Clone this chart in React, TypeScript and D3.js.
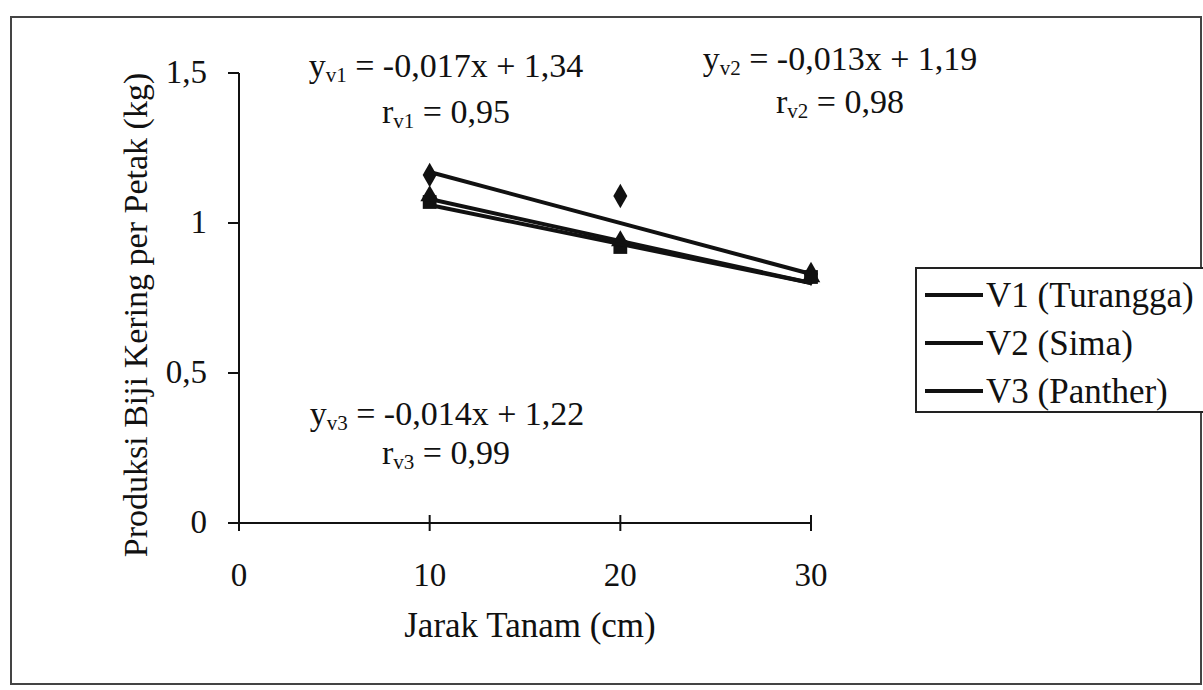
import { useEffect, useRef } from 'react';
import * as d3 from 'd3';

// jarak tanam (cm)
const spacing = [10, 20, 30];
const seriesNames = ['V1 (Turangga)', 'V2 (Sima)', 'V3 (Panther)'];
const seriesKeys = ['v1', 'v2', 'v3'];
// produksi per petak (kg)
const v1Values = [1.16, 1.09, 0.83];
const v2Values = [1.07, 0.92, 0.82];
const v3Values = [1.09, 0.94, 0.82];
// trendline coefficients as printed on the chart
const slopes = [-0.017, -0.013, -0.014];
const intercepts = [1.34, 1.19, 1.22];
const rValues = ['0,95', '0,98', '0,99'];
const xTicks = [0, 10, 20, 30];
const yTicks = [0, 0.5, 1, 1.5];

const fmt = (v: number) => String(v).replace('.', ',');
const FONT = "'Liberation Serif', 'Times New Roman', serif";

const App = () => {
  const svgRef = useRef<SVGSVGElement>(null);

  useEffect(() => {
    const svg = d3.select(svgRef.current);
    svg.selectAll('*').remove();

    const W = 1203, H = 690;
    svg.attr('width', W).attr('height', H);

    svg.append('rect').attr('width', W).attr('height', H).attr('fill', '#fff');

    // outer frame
    svg.append('rect')
      .attr('x', 11).attr('y', 17).attr('width', 1190).attr('height', 667)
      .attr('fill', 'none').attr('stroke', '#444').attr('stroke-width', 2);

    const x = d3.scaleLinear().domain([0, 30]).range([239, 811]);
    const y = d3.scaleLinear().domain([0, 1.5]).range([523, 73]);

    const g = svg.append('g');
    const txt = (sel: any) => sel.style('font-family', FONT).attr('fill', '#111');

    // y axis
    g.append('line')
      .attr('x1', x(0)).attr('x2', x(0)).attr('y1', y(0) + 8).attr('y2', y(1.5))
      .attr('stroke', '#111').attr('stroke-width', 2);
    yTicks.forEach(t => {
      g.append('line')
        .attr('x1', x(0) - 11).attr('x2', x(0)).attr('y1', y(t)).attr('y2', y(t))
        .attr('stroke', '#111').attr('stroke-width', 2);
      txt(g.append('text'))
        .attr('x', 207).attr('y', y(t) + 10)
        .attr('text-anchor', 'end').attr('font-size', 33)
        .text(fmt(t));
    });

    // x axis
    g.append('line')
      .attr('x1', x(0)).attr('x2', x(30)).attr('y1', y(0)).attr('y2', y(0))
      .attr('stroke', '#111').attr('stroke-width', 2);
    xTicks.forEach(t => {
      g.append('line')
        .attr('x1', x(t)).attr('x2', x(t)).attr('y1', y(0) - 8).attr('y2', y(0) + 8)
        .attr('stroke', '#111').attr('stroke-width', 2);
      txt(g.append('text'))
        .attr('x', x(t)).attr('y', 586)
        .attr('text-anchor', 'middle').attr('font-size', 33)
        .text(t);
    });

    // axis titles
    txt(g.append('text'))
      .attr('x', 530).attr('y', 637)
      .attr('text-anchor', 'middle').attr('font-size', 35)
      .text('Jarak Tanam (cm)');
    txt(g.append('text'))
      .attr('transform', `translate(147,${315}) rotate(-90)`)
      .attr('text-anchor', 'middle').attr('font-size', 34)
      .text('Produksi Biji Kering per Petak (kg)');

    // markers
    const allValues = [v1Values, v2Values, v3Values];
    const symbols = [d3.symbolDiamond, d3.symbolSquare, d3.symbolTriangle];
    const sizes = [170, 190, 150];
    allValues.forEach((vals, i) => {
      const sym = d3.symbol().type(symbols[i]).size(sizes[i]);
      g.selectAll(null)
        .data(vals.map((v, j) => ({ x: spacing[j], v })))
        .enter().append('path')
        .attr('d', sym)
        .attr('transform', d => `translate(${x(d.x)},${y(d.v)})`)
        .attr('fill', '#111');
    });

    // trendlines
    slopes.forEach((m, i) => {
      const pts = [spacing[0], spacing[spacing.length - 1]].map(xv => [x(xv), y(m * xv + intercepts[i])] as [number, number]);
      g.append('path')
        .attr('d', d3.line()(pts))
        .attr('stroke', '#111').attr('stroke-width', 4).attr('fill', 'none');
    });

    // equations
    const eqPos = [
      { x: 446, y: 77, rx: 446, ry: 123 },
      { x: 840, y: 70, rx: 840, ry: 113 },
      { x: 447, y: 425, rx: 446, ry: 464 },
    ];
    seriesKeys.forEach((k, i) => {
      const p = eqPos[i];
      const eq = txt(g.append('text'))
        .attr('x', p.x).attr('y', p.y)
        .attr('text-anchor', 'middle').attr('font-size', 34);
      eq.append('tspan').text('y');
      eq.append('tspan').attr('font-size', 21).attr('dy', 5).text(k);
      eq.append('tspan').attr('dy', -5)
        .text(` = ${fmt(slopes[i])}x + ${fmt(intercepts[i])}`);
      const r = txt(g.append('text'))
        .attr('x', p.rx).attr('y', p.ry)
        .attr('text-anchor', 'middle').attr('font-size', 34);
      r.append('tspan').text('r');
      r.append('tspan').attr('font-size', 21).attr('dy', 5).text(k);
      r.append('tspan').attr('dy', -5).text(` = ${rValues[i]}`);
    });

    // legend
    const legend = svg.append('g').attr('transform', 'translate(916,268)');
    legend.append('rect')
      .attr('width', 300).attr('height', 144)
      .attr('fill', '#fff').attr('stroke', '#222').attr('stroke-width', 2);
    const items = legend.selectAll('.legend-item')
      .data(seriesNames)
      .enter().append('g')
      .attr('class', 'legend-item')
      .attr('transform', (d, i) => `translate(0,${27 + i * 48})`);
    items.append('line')
      .attr('x1', 9).attr('x2', 67).attr('y1', 0).attr('y2', 0)
      .attr('stroke', '#111').attr('stroke-width', 4);
    items.append('text')
      .attr('x', 70).attr('y', 12)
      .style('font-family', FONT).attr('fill', '#111')
      .attr('font-size', 35)
      .text(d => d);
  }, []);

  return (
    <div>
      <svg ref={svgRef} style={{ position: 'absolute', left: 0, top: 0 }}></svg>
    </div>
  );
};

export default App;
